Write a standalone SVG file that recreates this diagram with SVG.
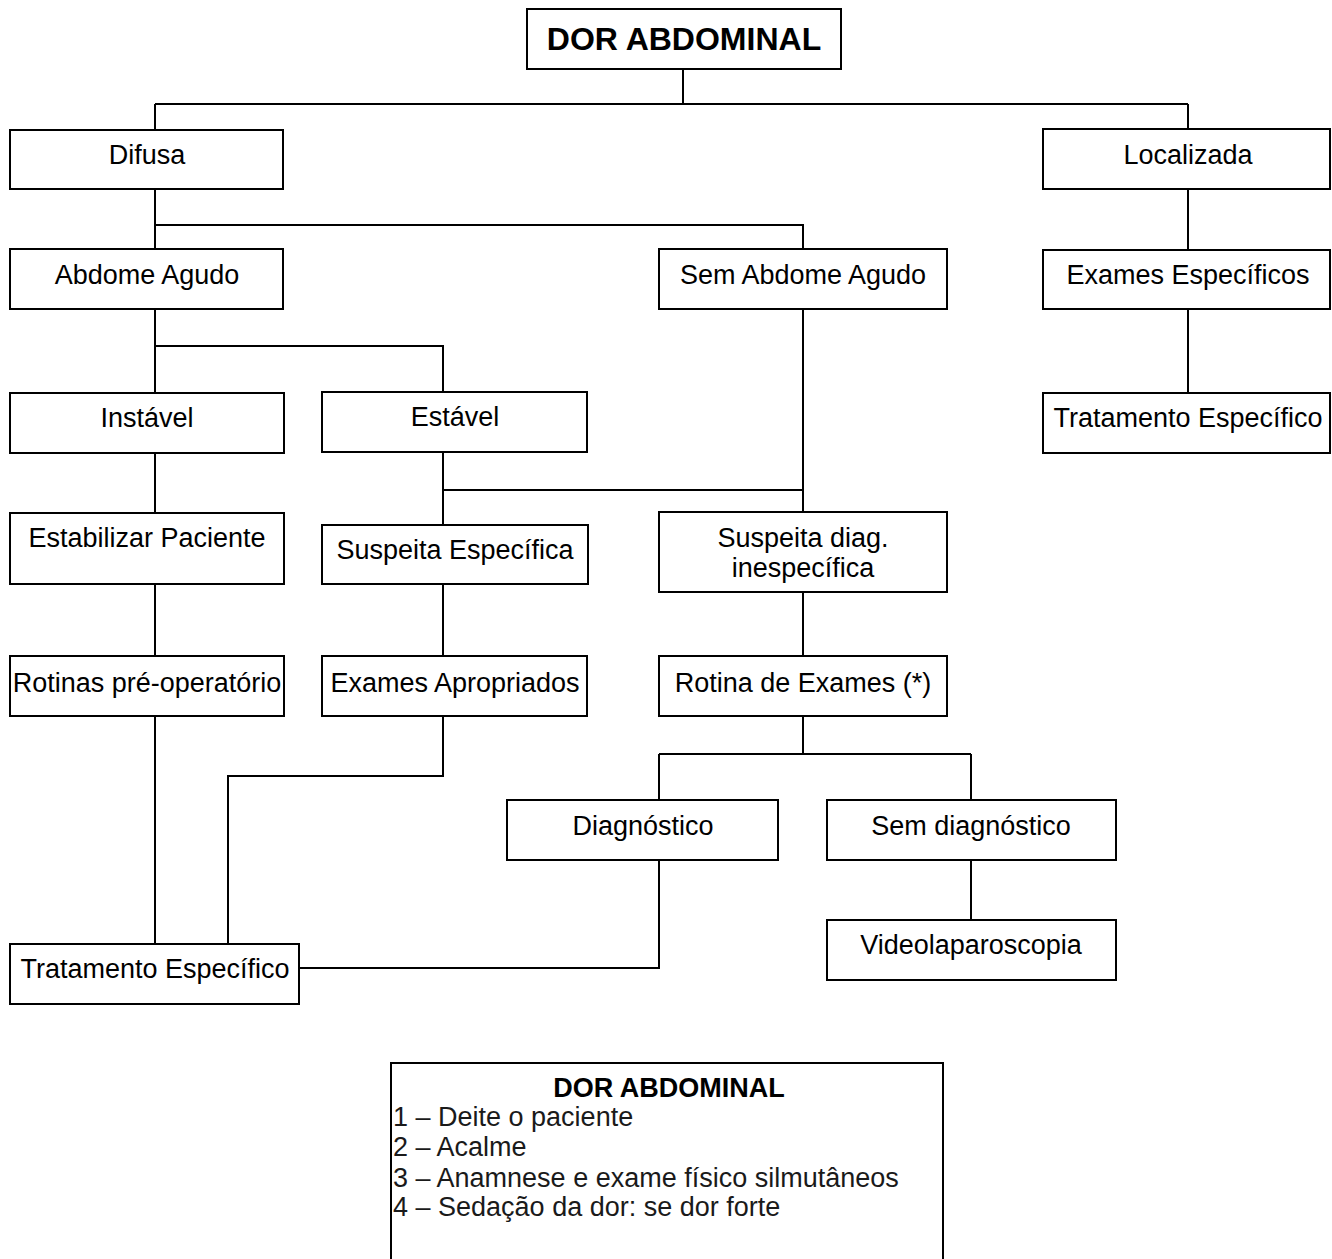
<svg xmlns="http://www.w3.org/2000/svg" width="1332" height="1259" viewBox="0 0 1332 1259">
  <style>
    .box { fill: #ffffff; stroke: #000000; stroke-width: 2; }
    .lbl { font-family: "Liberation Sans", Arial, sans-serif; font-size: 27px; fill: #000000; text-anchor: middle; }
    .title { font-family: "Liberation Sans", Arial, sans-serif; font-size: 32px; font-weight: bold; fill: #000000; text-anchor: middle; }
    .wire { fill: none; stroke: #000000; stroke-width: 2; }
    .note { font-family: "Liberation Sans", Arial, sans-serif; font-size: 27px; fill: #1a1a1a; }
    .noteHead { font-family: "Liberation Sans", Arial, sans-serif; font-size: 27px; font-weight: bold; fill: #000000; text-anchor: middle; }
  </style>
  <rect x="0" y="0" width="1332" height="1259" fill="#ffffff"/>

  <!-- connectors -->
  <g id="connectors">
    <path class="wire" d="M683 69 V104 M155 104 H1188 M155 104 V130 M1188 104 V129"/>
    <path class="wire" d="M155 189 V249 M155 225 H803 V249"/>
    <path class="wire" d="M1188 189 V250 M1188 309 V393"/>
    <path class="wire" d="M155 309 V393 M155 346 H443 V392"/>
    <path class="wire" d="M155 453 V513 M155 584 V656 M155 716 V944"/>
    <path class="wire" d="M443 452 V525 M443 490 H803"/>
    <path class="wire" d="M803 309 V512 M803 592 V656"/>
    <path class="wire" d="M443 584 V656 M443 716 V776 H228 V944"/>
    <path class="wire" d="M803 716 V754 M659 754 H971 M659 754 V800 M971 754 V800"/>
    <path class="wire" d="M971 860 V920"/>
    <path class="wire" d="M659 860 V968 H299"/>
  </g>

  <g id="n-dor">
    <rect class="box" x="527" y="9" width="314" height="60"/>
    <text class="title" x="684" y="50">DOR ABDOMINAL</text>
  </g>
  <g id="n-difusa">
    <rect class="box" x="10" y="130" width="273" height="59"/>
    <text class="lbl" x="147" y="164">Difusa</text>
  </g>
  <g id="n-localizada">
    <rect class="box" x="1043" y="129" width="287" height="60"/>
    <text class="lbl" x="1188" y="164">Localizada</text>
  </g>
  <g id="n-abdome-agudo">
    <rect class="box" x="10" y="249" width="273" height="60"/>
    <text class="lbl" x="147" y="284">Abdome Agudo</text>
  </g>
  <g id="n-sem-abdome-agudo">
    <rect class="box" x="659" y="249" width="288" height="60"/>
    <text class="lbl" x="803" y="284">Sem Abdome Agudo</text>
  </g>
  <g id="n-exames-especificos">
    <rect class="box" x="1043" y="250" width="287" height="59"/>
    <text class="lbl" x="1188" y="284">Exames Específicos</text>
  </g>
  <g id="n-instavel">
    <rect class="box" x="10" y="393" width="274" height="60"/>
    <text class="lbl" x="147" y="427">Instável</text>
  </g>
  <g id="n-estavel">
    <rect class="box" x="322" y="392" width="265" height="60"/>
    <text class="lbl" x="455" y="426">Estável</text>
  </g>
  <g id="n-tratamento-especifico-loc">
    <rect class="box" x="1043" y="393" width="287" height="60"/>
    <text class="lbl" x="1188" y="427">Tratamento Específico</text>
  </g>
  <g id="n-estabilizar">
    <rect class="box" x="10" y="513" width="274" height="71"/>
    <text class="lbl" x="147" y="547">Estabilizar Paciente</text>
  </g>
  <g id="n-suspeita-especifica">
    <rect class="box" x="322" y="525" width="266" height="59"/>
    <text class="lbl" x="455" y="559">Suspeita Específica</text>
  </g>
  <g id="n-suspeita-inespecifica">
    <rect class="box" x="659" y="512" width="288" height="80"/>
    <text class="lbl" x="803" y="547">Suspeita diag.</text>
    <text class="lbl" x="803" y="577">inespecífica</text>
  </g>
  <g id="n-rotinas-preop">
    <rect class="box" x="10" y="656" width="274" height="60"/>
    <text class="lbl" x="147" y="692">Rotinas pré-operatório</text>
  </g>
  <g id="n-exames-apropriados">
    <rect class="box" x="322" y="656" width="265" height="60"/>
    <text class="lbl" x="455" y="692">Exames Apropriados</text>
  </g>
  <g id="n-rotina-exames">
    <rect class="box" x="659" y="656" width="288" height="60"/>
    <text class="lbl" x="803" y="692">Rotina de Exames (*)</text>
  </g>
  <g id="n-diagnostico">
    <rect class="box" x="507" y="800" width="271" height="60"/>
    <text class="lbl" x="643" y="835">Diagnóstico</text>
  </g>
  <g id="n-sem-diagnostico">
    <rect class="box" x="827" y="800" width="289" height="60"/>
    <text class="lbl" x="971" y="835">Sem diagnóstico</text>
  </g>
  <g id="n-videolaparoscopia">
    <rect class="box" x="827" y="920" width="289" height="60"/>
    <text class="lbl" x="971" y="954">Videolaparoscopia</text>
  </g>
  <g id="n-tratamento-especifico">
    <rect class="box" x="10" y="944" width="289" height="60"/>
    <text class="lbl" x="155" y="978">Tratamento Específico</text>
  </g>

  <!-- first-aid notes panel -->
  <g id="n-notes">
    <rect class="box" x="391" y="1063" width="552" height="210"/>
    <text class="noteHead" x="669" y="1097">DOR ABDOMINAL</text>
    <text class="note" x="393" y="1126">1 – Deite o paciente</text>
    <text class="note" x="393" y="1156">2 – Acalme</text>
    <text class="note" x="393" y="1187">3 – Anamnese e exame físico silmutâneos</text>
    <text class="note" x="393" y="1216">4 – Sedação da dor: se dor forte</text>
  </g>
</svg>
